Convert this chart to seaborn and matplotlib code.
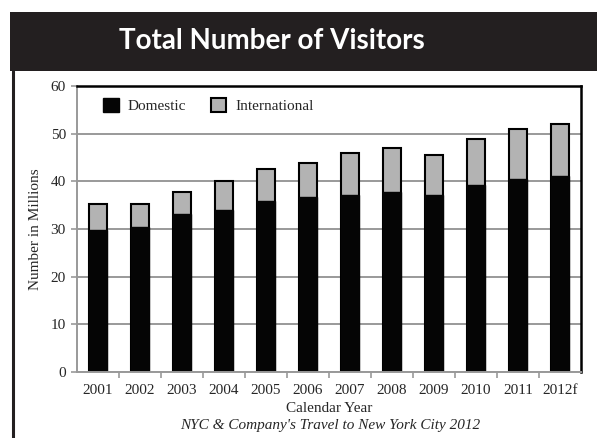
import matplotlib
matplotlib.use("Agg")
import matplotlib.pyplot as plt
from matplotlib.patches import Rectangle, Patch
import seaborn as sns
import pandas as pd

# Visitors to New York City, in millions
years = ["2001", "2002", "2003", "2004", "2005", "2006",
         "2007", "2008", "2009", "2010", "2011", "2012f"]
domestic = [29.7, 30.4, 33.1, 33.9, 35.8, 36.7, 37.2, 37.7, 37.1, 39.3, 40.5, 41.2]
international = [5.5, 4.9, 4.7, 6.1, 6.8, 7.2, 8.8, 9.3, 8.5, 9.5, 10.4, 10.9]

df = pd.DataFrame({"year": years, "Domestic": domestic, "International": international})
df["Total"] = df["Domestic"] + df["International"]

sns.set_theme(style="white")
plt.rcParams["font.family"] = ["Liberation Serif", "DejaVu Serif"]

fig = plt.figure(figsize=(5.97, 4.38), dpi=100)
fig.patch.set_facecolor("white")

# title band and left rule
fig.add_artist(Rectangle((10 / 597, 1 - 71 / 438), 1 - 10 / 597, 59 / 438,
                         transform=fig.transFigure, facecolor="#231f20",
                         edgecolor="none"))
fig.add_artist(plt.Line2D([13 / 597, 13 / 597], [0, 1 - 71 / 438],
                          transform=fig.transFigure, color="#231f20", lw=2.2))
fig.text(272 / 597, 1 - 41 / 438, "Total Number of Visitors", color="white",
         family=["Lato", "DejaVu Sans"], fontweight="bold", fontsize=20,
         ha="center", va="center")

ax = fig.add_axes([77 / 597, 66 / 438, 504 / 597, 286 / 438])

grey = "#b3b3b3"
sns.barplot(data=df, x="year", y="Total", color=grey, edgecolor="black",
            linewidth=1.5, width=0.45, saturation=1, ax=ax)
sns.barplot(data=df, x="year", y="Domestic", color="#050505", edgecolor="#050505",
            linewidth=1.0, width=0.45, saturation=1, ax=ax)

ax.set_ylim(0, 60)
ax.set_xlim(-0.5, len(years) - 0.5)
ax.set_yticks(range(0, 61, 10))
ax.yaxis.grid(True, color="#999999", lw=1.4)
ax.set_axisbelow(True)

for side in ("left", "bottom"):
    ax.spines[side].set_color("#999999")
    ax.spines[side].set_linewidth(1.4)
for side in ("top", "right"):
    ax.spines[side].set_color("black")
    ax.spines[side].set_linewidth(1.8)

ax.tick_params(axis="y", which="major", left=True, length=4, width=1.2,
               color="#999999", labelsize=11, pad=4)
ax.tick_params(axis="x", which="major", bottom=False, labelsize=11, pad=3)
ax.set_xticks([i + 0.5 for i in range(len(years) - 1)], minor=True)
ax.tick_params(axis="x", which="minor", bottom=True, length=4, width=1.2,
               color="#999999")

ax.set_xlabel("Calendar Year", fontsize=11, labelpad=3)
ax.set_ylabel("Number in Millions", fontsize=11, labelpad=6)

fig.text(330 / 597, 1 - 425 / 438, "NYC & Company's Travel to New York City 2012",
         fontsize=11, style="italic", ha="center", va="center")

handles = [Patch(facecolor="#050505", edgecolor="#050505", label="Domestic"),
           Patch(facecolor=grey, edgecolor="black", linewidth=1.5, label="International")]
ax.legend(handles=handles, loc="upper left", bbox_to_anchor=(0.025, 1.005),
          ncol=2, frameon=False, fontsize=11, handlelength=1.0, handleheight=1.0,
          handletextpad=0.6, columnspacing=1.6)

fig.savefig("out.png", dpi=100)
